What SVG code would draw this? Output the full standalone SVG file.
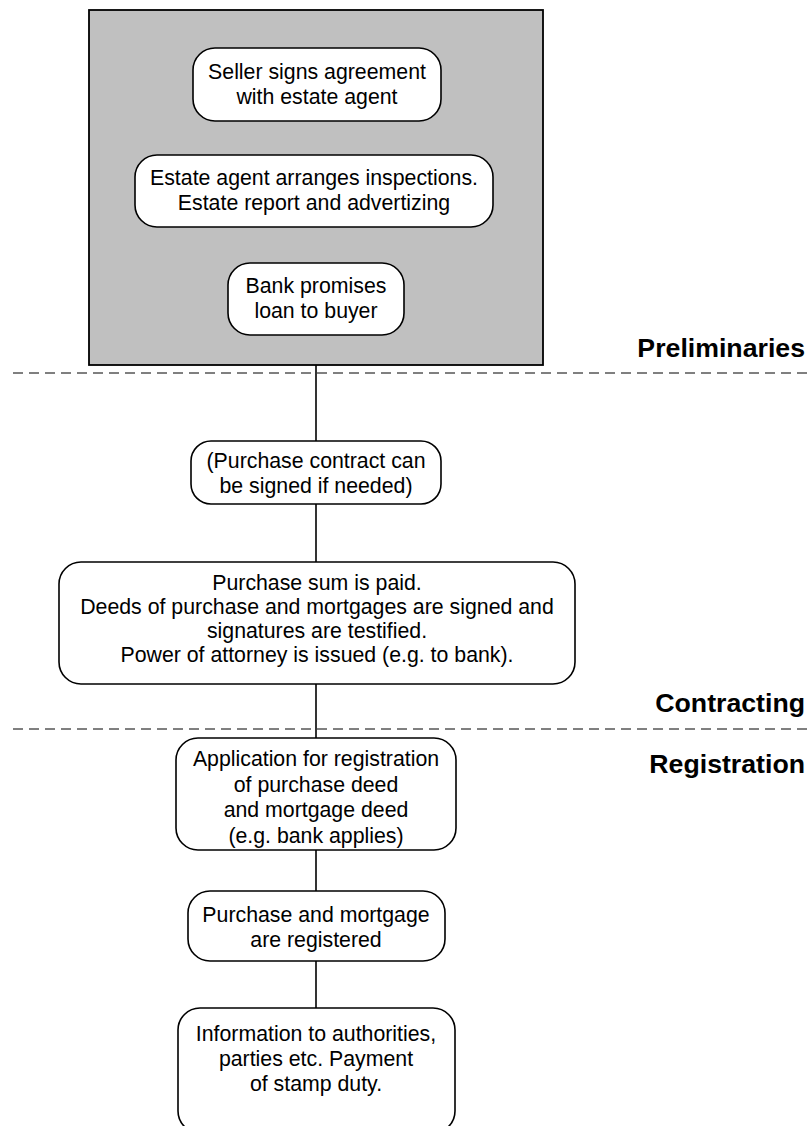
<svg xmlns="http://www.w3.org/2000/svg" width="807" height="1126" viewBox="0 0 807 1126">
<style>
.node{fill:#ffffff;stroke:#000000;stroke-width:1.6}
.t{font-family:"Liberation Sans",Arial,sans-serif;font-size:21.3px;fill:#000;text-anchor:middle}
.lbl{font-family:"Liberation Sans",Arial,sans-serif;font-size:26.7px;font-weight:bold;fill:#000;text-anchor:end}
.conn{stroke:#000;stroke-width:1.6;fill:none}
.dash{stroke:#000;stroke-width:1;stroke-dasharray:10 6;fill:none}
</style>
<rect width="807" height="1126" fill="#ffffff"/>
<g id="preliminaries-group">
<rect x="89" y="10" width="454" height="355" fill="#c0c0c0" stroke="#000" stroke-width="1.8"/>
</g>
<g id="connectors">
<line class="conn" x1="316" y1="365" x2="316" y2="441"/>
<line class="conn" x1="316" y1="504" x2="316" y2="562"/>
<line class="conn" x1="316" y1="684" x2="316" y2="738"/>
<line class="conn" x1="316" y1="850" x2="316" y2="891"/>
<line class="conn" x1="316" y1="961" x2="316" y2="1008"/>
</g>
<g id="separators">
<line class="dash" x1="13" y1="373" x2="807" y2="373"/>
<line class="dash" x1="13" y1="729" x2="807" y2="729"/>
</g>
<g id="labels">
<text class="lbl" x="805" y="357">Preliminaries</text>
<text class="lbl" x="805" y="712">Contracting</text>
<text class="lbl" x="805" y="773">Registration</text>
</g>
<g id="n1">
<rect class="node" x="193" y="48" width="248" height="73" rx="22"/>
<text class="t" x="317" y="79">Seller signs agreement</text>
<text class="t" x="317" y="104">with estate agent</text>
</g>
<g id="n2">
<rect class="node" x="135" y="155" width="358" height="72" rx="22"/>
<text class="t" x="314" y="185">Estate agent arranges inspections.</text>
<text class="t" x="314" y="210">Estate report and advertizing</text>
</g>
<g id="n3">
<rect class="node" x="228" y="263" width="176" height="72" rx="22"/>
<text class="t" x="316" y="293">Bank promises</text>
<text class="t" x="316" y="318">loan to buyer</text>
</g>
<g id="n4">
<rect class="node" x="191" y="441" width="250" height="63" rx="20"/>
<text class="t" x="316" y="468">(Purchase contract can</text>
<text class="t" x="316" y="493">be signed if needed)</text>
</g>
<g id="n5">
<rect class="node" x="59" y="562" width="516" height="122" rx="22"/>
<text class="t" x="317" y="590">Purchase sum is paid.</text>
<text class="t" x="317" y="614">Deeds of purchase and mortgages are signed and</text>
<text class="t" x="317" y="638">signatures are testified.</text>
<text class="t" x="317" y="662">Power of attorney is issued (e.g. to bank).</text>
</g>
<g id="n6">
<rect class="node" x="176" y="738" width="280" height="112" rx="22"/>
<text class="t" x="316" y="766">Application for registration</text>
<text class="t" x="316" y="792">of purchase deed</text>
<text class="t" x="316" y="817">and mortgage deed</text>
<text class="t" x="316" y="843">(e.g. bank applies)</text>
</g>
<g id="n7">
<rect class="node" x="188" y="891" width="257" height="70" rx="22"/>
<text class="t" x="316" y="922">Purchase and mortgage</text>
<text class="t" x="316" y="947">are registered</text>
</g>
<g id="n8">
<rect class="node" x="178" y="1008" width="277" height="125" rx="22"/>
<text class="t" x="316" y="1041">Information to authorities,</text>
<text class="t" x="316" y="1066">parties etc. Payment</text>
<text class="t" x="316" y="1091">of stamp duty.</text>
</g>
</svg>
